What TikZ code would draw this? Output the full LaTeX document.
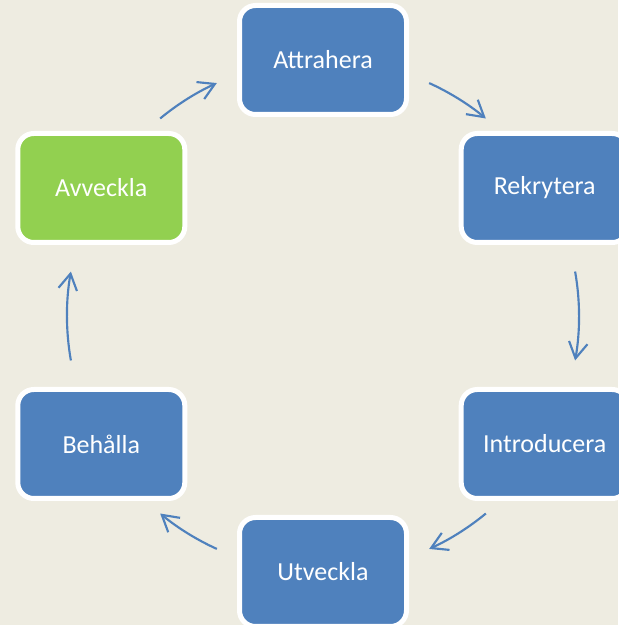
\documentclass[tikz,border=0pt]{standalone}
\usepackage{fontspec}
\setmainfont{Carlito}
\usepackage{tikz}
\usetikzlibrary{arrows.meta}
\definecolor{phaseblue}{HTML}{4F81BD}
\definecolor{phasegreen}{HTML}{92D050}
\definecolor{paper}{HTML}{EEECE1}
\tikzstyle{phase} = [rectangle, rounded corners=12pt, minimum width=125.25pt, minimum height=81.75pt, text centered, fill=phaseblue, draw=white, line width=3.75pt, text=white, font=\fontsize{19.5}{23}\selectfont]
\tikzstyle{phaseG} = [phase, fill=phasegreen]
\tikzstyle{arrow} = [line width=1.6pt, draw=phaseblue, -{Straight Barb[length=12pt,width=14pt]}]

\begin{document}
\begin{tikzpicture}[x=0.75pt, y=0.75pt]
\fill[paper] (0,0) rectangle (618,625);
\useasboundingbox (0,0) rectangle (618,625);
\coordinate (c) at (323,309);

\node (attrahera) [phase] at ([shift={(90:256)}]c) {Attrahera};
\node (rekrytera) [phase] at ([shift={(30:256)}]c) {Rekrytera};
\node (introducera) [phase] at ([shift={(-30:256)}]c) {Introducera};
\node (utveckla) [phase] at ([shift={(-90:256)}]c) {Utveckla};
\node (behalla) [phase] at ([shift={(-150:256)}]c) {Behålla};
\node (avveckla) [phaseG] at ([shift={(150:256)}]c) {Avveckla};

% ends of the arrows on the circle
\coordinate (avvecklaOut) at ([shift={(129.5:256)}]c);
\coordinate (attraheraOut) at ([shift={(65.5:256)}]c);
\coordinate (rekryteraOut) at ([shift={(10:256)}]c);
\coordinate (introduceraOut) at ([shift={(-50.5:256)}]c);
\coordinate (utvecklaOut) at ([shift={(-114.5:256)}]c);
\coordinate (behallaOut) at ([shift={(190:256)}]c);

\draw [arrow] (avvecklaOut) arc[start angle=129.5, end angle=114.5, radius=256];
\draw [arrow] (attraheraOut) arc[start angle=65.5, end angle=50.5, radius=256];
\draw [arrow] (rekryteraOut) arc[start angle=10, end angle=-10, radius=256];
\draw [arrow] (introduceraOut) arc[start angle=-50.5, end angle=-65.5, radius=256];
\draw [arrow] (utvecklaOut) arc[start angle=-114.5, end angle=-129.5, radius=256];
\draw [arrow] (behallaOut) arc[start angle=190, end angle=170, radius=256];

\end{tikzpicture}
\end{document}
